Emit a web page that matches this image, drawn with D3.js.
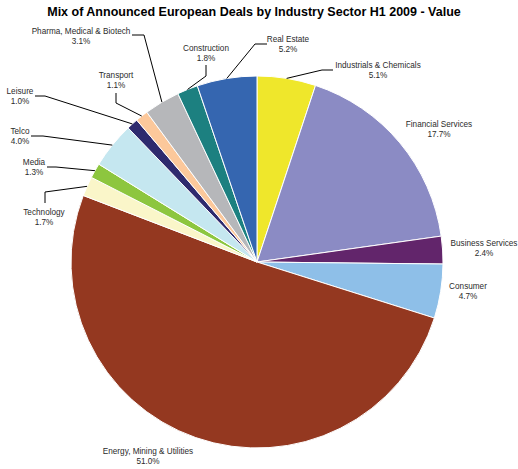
<!DOCTYPE html>
<html>
<head>
<meta charset="utf-8">
<script src="https://cdn.jsdelivr.net/npm/d3@7"></script>
<style>
  html, body { margin: 0; padding: 0; background: #fff; }
  svg { display: block; }
</style>
</head>
<body>
<svg id="chart" width="518" height="469"></svg>
<script>
// Sectors in drawing order, clockwise from 12 o'clock
const sectors = [
  "Industrials & Chemicals", "Financial Services", "Business Services", "Consumer",
  "Energy, Mining & Utilities", "Technology", "Media", "Telco", "Leisure",
  "Transport", "Pharma, Medical & Biotech", "Construction", "Real Estate"
];
const shares = [5.1, 17.7, 2.4, 4.7, 51.0, 1.7, 1.3, 4.0, 1.0, 1.1, 3.1, 1.8, 5.2];
const sectorColors = [
  "#efe72b", "#8b8bc4", "#62256b", "#8ebfe8", "#943820", "#faf6c9", "#8dc63f",
  "#c5e7f0", "#2e2a6e", "#fcc89b", "#b6b7ba", "#1c8080", "#3566b0"
];
const title = "Mix of Announced European Deals by Industry Sector H1 2009 - Value";

// Label placement: text centre (x, first-line y) and leader line path (start, elbow) in px
const labelLayout = {
  "Industrials & Chemicals":   { x: 378, y: 65,  leader: [[333, 70], [322, 70]] },
  "Financial Services":        { x: 439, y: 124 },
  "Business Services":         { x: 484, y: 243 },
  "Consumer":                  { x: 468, y: 286 },
  "Energy, Mining & Utilities":{ x: 148, y: 451 },
  "Technology":                { x: 44,  y: 212, leader: [[45, 203], [45, 192]] },
  "Media":                     { x: 34,  y: 162, leader: [[47, 167], [56, 167]] },
  "Telco":                     { x: 20,  y: 131, leader: [[31, 136], [43, 136]] },
  "Leisure":                   { x: 20,  y: 91,  leader: [[35, 96], [45, 96]] },
  "Transport":                 { x: 116, y: 75,  leader: [[116, 93], [116, 103]] },
  "Pharma, Medical & Biotech": { x: 81,  y: 31,  leader: [[132, 35], [144, 35]] },
  "Construction":              { x: 206, y: 48,  leader: [[206, 65], [206, 76]] },
  "Real Estate":               { x: 288, y: 39,  leader: [[267, 44], [255, 44]] }
};

const svg = d3.select("#chart");
const cx = 257, cy = 262, radius = 186;

svg.append("text")
  .attr("x", 254).attr("y", 12)
  .attr("text-anchor", "middle")
  .attr("dominant-baseline", "central")
  .attr("font-family", "'Liberation Sans', Arial, sans-serif")
  .attr("font-size", 12.5).attr("font-weight", "bold")
  .attr("fill", "#000")
  .text(title);

const data = sectors.map((name, i) => ({ name, value: shares[i], color: sectorColors[i] }));

const pie = d3.pie().value(d => d.value).sort(null);
const arc = d3.arc().innerRadius(0).outerRadius(radius);
const arcs = pie(data);

const g = svg.append("g").attr("transform", `translate(${cx},${cy})`);
g.selectAll("path.slice")
  .data(arcs)
  .join("path")
  .attr("class", "slice")
  .attr("d", arc)
  .attr("fill", d => d.data.color)
  .attr("stroke", "#fff")
  .attr("stroke-width", 1);

// Leader lines: from label to the outer edge at each slice's mid-angle
const line = d3.line();
arcs.forEach(a => {
  const lay = labelLayout[a.data.name];
  if (!lay.leader) return;
  const mid = (a.startAngle + a.endAngle) / 2;
  const edge = [cx + radius * Math.sin(mid), cy - radius * Math.cos(mid)];
  svg.append("path")
    .attr("d", line([...lay.leader, edge]))
    .attr("fill", "none")
    .attr("stroke", "#000")
    .attr("stroke-width", 1);
});

const fmt = d3.format(".1f");
arcs.forEach(a => {
  const lay = labelLayout[a.data.name];
  const t = svg.append("text")
    .attr("text-anchor", "middle")
    .attr("font-family", "'Liberation Sans', Arial, sans-serif")
    .attr("font-size", 8.2)
    .attr("fill", "#2b2b2b");
  t.append("tspan").attr("x", lay.x).attr("y", lay.y).attr("dominant-baseline", "central").text(a.data.name);
  t.append("tspan").attr("x", lay.x).attr("y", lay.y + 10.5).attr("dominant-baseline", "central").text(fmt(a.data.value) + "%");
});
</script>
</body>
</html>
